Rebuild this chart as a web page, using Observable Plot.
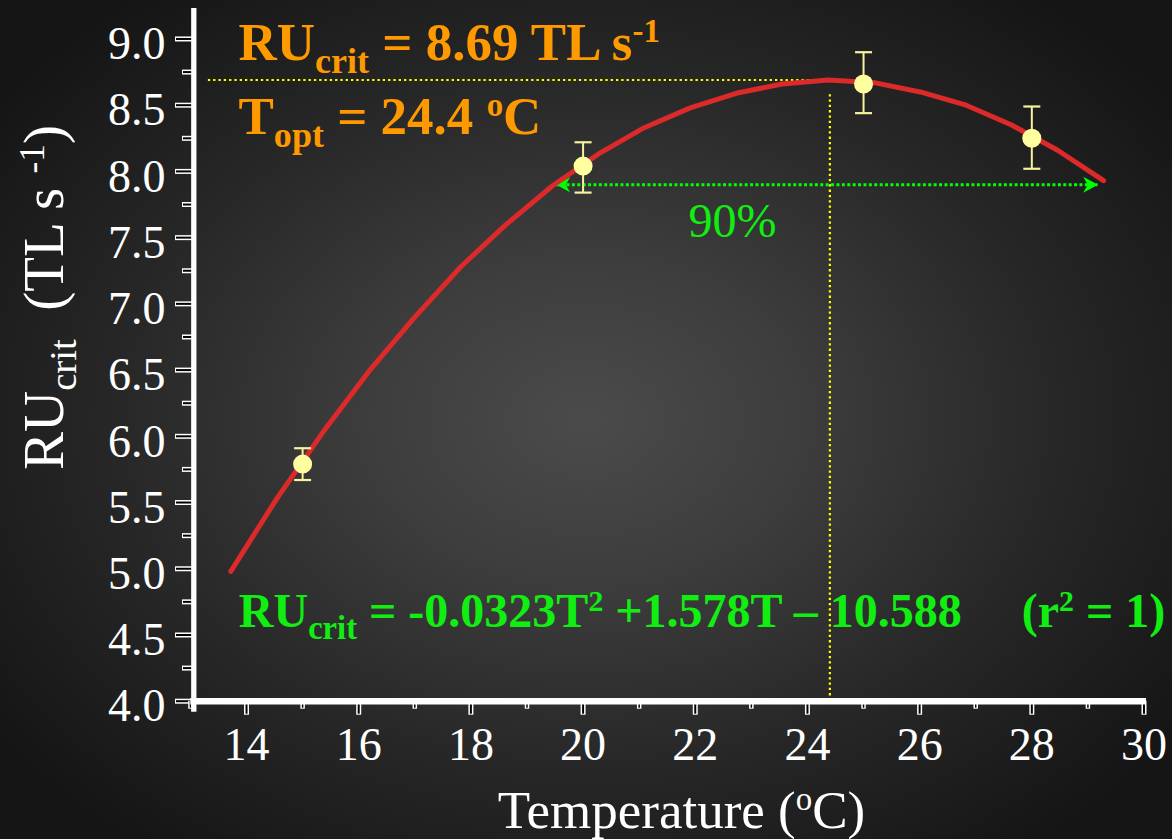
<!DOCTYPE html>
<html>
<head>
<meta charset="utf-8">
<script src="https://cdn.jsdelivr.net/npm/d3@7"></script>
<script src="https://cdn.jsdelivr.net/npm/@observablehq/plot@0.6"></script>
<style>
html, body { margin: 0; padding: 0; background: #111; overflow: hidden; }
#chart svg text { white-space: pre; font-family: 'Liberation Serif', 'Times New Roman', Times, serif; }
</style>
</head>
<body>
<div id="chart"></div>
<script>
// ---- data ----
const temps   = [15, 20, 25, 28];
const rucrit  = [5.79, 8.04, 8.66, 8.25];
const errLow  = [5.67, 7.84, 8.44, 8.02];
const errHigh = [5.91, 8.22, 8.90, 8.49];

// fitted curve (polyline vertices as seen in the picture)
const fitT  = [13.72, 14.54, 15.36, 16.18, 17.00, 17.82, 18.63, 19.45, 20.27, 21.09,
               21.91, 22.73, 23.55, 24.37, 25.19, 26.01, 26.83, 27.64, 28.46, 29.28];
const fitRU = [4.98, 5.53, 6.03, 6.49, 6.90, 7.28, 7.60, 7.89, 8.13, 8.33,
               8.48, 8.59, 8.66, 8.69, 8.67, 8.60, 8.50, 8.35, 8.16, 7.93];

// axes
const xDomain = [13.06, 30];
const yDomain = [4.0, 9.23];
const xTicksMajor = [14, 16, 18, 20, 22, 24, 26, 28, 30];
const xTicksMinor = [13, 15, 17, 19, 21, 23, 25, 27, 29];
const yTicksMajor = [4.0, 4.5, 5.0, 5.5, 6.0, 6.5, 7.0, 7.5, 8.0, 8.5, 9.0];
const yTicksMinor = [4.25, 4.75, 5.25, 5.75, 6.25, 6.75, 7.25, 7.75, 8.25, 8.75];

// optimum guide lines and 90% range
const optH = [{x1: 13.32, x2: 24.1, y: 8.69}];
const optV = [{x: 24.4, y1: 4.0, y2: 8.6}];
const range90 = [{x1: 19.52, x2: 29.18, y: 7.9}];

// texts
const txtRU   = "RU_{crit} = 8.69 TL s^{-1}";
const txtTopt = "T_{opt} = 24.4 ^{o}C";
const txtEq   = "RU_{crit} = -0.0323T^{2} +1.578T \u2013 10.588     (r^{2} = 1)";
const txt90   = "90%";
const xTitle  = "Temperature (^{o}C)";
const yTitle  = "RU_{crit}  (TL s ^{-1})";

// ---- build ----
const points = temps.map((t, i) => ({t, ru: rucrit[i], lo: errLow[i], hi: errHigh[i]}));
const fit = fitT.map((t, i) => ({t, ru: fitRU[i]}));

const hbar = {draw(ctx, size) { const r = Math.sqrt(size / Math.PI); ctx.moveTo(-r, 0); ctx.lineTo(r, 0); }};
const dartRight = {draw(ctx, size) {
  const r = Math.sqrt(size / Math.PI);
  ctx.moveTo(0, 0); ctx.lineTo(-1.85 * r, -r); ctx.lineTo(-1.3 * r, 0); ctx.lineTo(-1.85 * r, r); ctx.closePath();
}};
const dartLeft = {draw(ctx, size) {
  const r = Math.sqrt(size / Math.PI);
  ctx.moveTo(0, 0); ctx.lineTo(1.85 * r, -r); ctx.lineTo(1.3 * r, 0); ctx.lineTo(1.85 * r, r); ctx.closePath();
}};

const WHITE = "#ffffff";
const GREEN = "#11ee11";
const ORANGE = "#ff9900";
const serif = "'Liberation Serif', 'Times New Roman', Times, serif";

const chart = Plot.plot({
  width: 1172,
  height: 839,
  marginLeft: 193.3,
  marginRight: 28.5,
  marginTop: 8,
  marginBottom: 138.3,
  x: {domain: xDomain, axis: null},
  y: {domain: yDomain, axis: null},
  style: {
    background: "radial-gradient(ellipse 62% 64% at 50% 50%, #4b4b4b 0%, #3d3d3d 30%, #272727 65%, #151515 100%)",
    color: "white",
    fontFamily: serif,
    overflow: "visible"
  },
  marks: [
    // yellow optimum guides
    Plot.ruleY(optH, {y: "y", x1: "x1", x2: "x2", stroke: "#ffff00", strokeWidth: 2.2, strokeDasharray: "2.3,3"}),
    Plot.ruleX(optV, {x: "x", y1: "y1", y2: "y2", stroke: "#ffff00", strokeWidth: 2.2, strokeDasharray: "2.3,3"}),
    // 90% range arrow
    Plot.ruleY(range90, {y: "y", x1: "x1", x2: "x2", stroke: "#00ff00", strokeWidth: 3, strokeDasharray: "3,2.4"}),
    Plot.dot(range90, {x: "x2", y: "y", symbol: dartRight, r: 8, fill: "#00ff00", stroke: "none"}),
    Plot.dot(range90, {x: "x1", y: "y", symbol: dartLeft, r: 7.5, fill: "#00ff00", stroke: "none"}),
    // fitted curve
    Plot.line(fit, {x: "t", y: "ru", stroke: "#dc2a2a", strokeWidth: 5, strokeLinejoin: "round"}),
    // error bars and points
    Plot.ruleX(points, {x: "t", y1: "lo", y2: "hi", stroke: "#f7f2a0", strokeWidth: 2}),
    Plot.dot(points, {x: "t", y: "lo", symbol: hbar, r: 8.5, stroke: "#f7f2a0", strokeWidth: 2.2, fill: "none"}),
    Plot.dot(points, {x: "t", y: "hi", symbol: hbar, r: 8.5, stroke: "#f7f2a0", strokeWidth: 2.2, fill: "none"}),
    Plot.dot(points, {x: "t", y: "ru", r: 9.5, fill: "#ffffa0", stroke: "none"}),
    // annotations
    Plot.text([txtRU], {text: d => d, frameAnchor: "top-left", dx: 44.7, dy: 51.3, textAnchor: "start", lineAnchor: "bottom",
      fill: ORANGE, fontSize: 53, fontWeight: "bold", fontFamily: serif}),
    Plot.text([txtTopt], {text: d => d, frameAnchor: "top-left", dx: 44.7, dy: 125.3, textAnchor: "start", lineAnchor: "bottom",
      fill: ORANGE, fontSize: 53, fontWeight: "bold", fontFamily: serif}),
    Plot.text([txtEq], {text: d => d, frameAnchor: "top-left", dx: 45, dy: 618.7, textAnchor: "start", lineAnchor: "bottom",
      fill: GREEN, fontSize: 48, fontWeight: "bold", fontFamily: serif}),
    Plot.text([txt90], {text: d => d, frameAnchor: "top-left", dx: 538.7, dy: 228, textAnchor: "middle", lineAnchor: "bottom",
      fill: GREEN, fontSize: 48, fontFamily: serif}),
    // axis titles
    Plot.text([xTitle], {text: d => d, frameAnchor: "bottom", dx: 12.6, dy: 126.3, textAnchor: "middle", lineAnchor: "bottom",
      fill: WHITE, fontSize: 53, fontFamily: serif}),
    Plot.text([yTitle], {text: d => d, frameAnchor: "left", dx: -131.3, dy: -57.3, rotate: -90, textAnchor: "middle", lineAnchor: "bottom",
      fill: WHITE, fontSize: 57, fontFamily: serif}),
    // hollow ticks: white outline then black interior
    Plot.axisY(yTicksMajor, {tickSize: 18.3, strokeWidth: 5, stroke: WHITE, fill: "none"}),
    Plot.axisY(yTicksMajor, {tickSize: 17.3, strokeWidth: 2, stroke: "black", fill: "none"}),
    Plot.axisY(yTicksMinor, {tickSize: 11.3, strokeWidth: 5, stroke: WHITE, fill: "none"}),
    Plot.axisY(yTicksMinor, {tickSize: 10.3, strokeWidth: 2, stroke: "black", fill: "none"}),
    Plot.axisX(xTicksMajor, {tickSize: 14, strokeWidth: 5, stroke: WHITE, fill: "none"}),
    Plot.axisX(xTicksMajor, {tickSize: 13, strokeWidth: 2, stroke: "black", fill: "none"}),
    Plot.axisX(xTicksMinor, {tickSize: 8, strokeWidth: 4.5, stroke: WHITE, fill: "none"}),
    Plot.axisX(xTicksMinor, {tickSize: 7, strokeWidth: 1.5, stroke: "black", fill: "none"}),
    // tick labels
    Plot.axisY(yTicksMajor, {tickSize: 0, tickPadding: 28.3, stroke: "none", fill: WHITE, fontSize: 46, fontFamily: serif,
      fontVariant: "normal", tickFormat: d => d.toFixed(1), label: null, dy: 5.5}),
    Plot.axisX(xTicksMajor, {tickSize: 0, tickPadding: 26.6, stroke: "none", fill: WHITE, fontSize: 46, fontFamily: serif,
      fontVariant: "normal", tickFormat: d => String(d), label: null}),
    // axis lines
    Plot.ruleX([xDomain[0]], {stroke: WHITE, strokeWidth: 5.3, insetBottom: -11}),
    Plot.ruleY([yDomain[0]], {stroke: WHITE, strokeWidth: 6.5, insetLeft: -3, insetRight: -2.5})
  ]
});

document.getElementById("chart").appendChild(chart);

// rich text: _{...} subscript, ^{...} superscript, as tspans
function richify(root) {
  const NS = "http://www.w3.org/2000/svg";
  root.querySelectorAll("text").forEach(t => {
    const s = t.textContent;
    if (!/[_^]\{/.test(s)) return;
    const fs = parseFloat(getComputedStyle(t).fontSize) || 40;
    while (t.firstChild) t.removeChild(t.firstChild);
    let shift = 0;
    const add = (txt, kind) => {
      const ts = document.createElementNS(NS, "tspan");
      const target = kind === "_" ? 0.24 * fs : kind === "^" ? -0.33 * fs : 0;
      if (target - shift !== 0) ts.setAttribute("dy", (target - shift).toFixed(2));
      shift = target;
      if (kind) ts.setAttribute("font-size", ((kind === "^" ? 0.62 : 0.68) * fs).toFixed(2));
      ts.textContent = txt;
      t.appendChild(ts);
    };
    const re = /([_^])\{([^}]*)\}/g;
    let last = 0, m;
    while ((m = re.exec(s))) {
      if (m.index > last) add(s.slice(last, m.index), null);
      add(m[2], m[1]);
      last = re.lastIndex;
    }
    if (last < s.length) add(s.slice(last), null);
  });
}
richify(chart);
</script>
</body>
</html>
